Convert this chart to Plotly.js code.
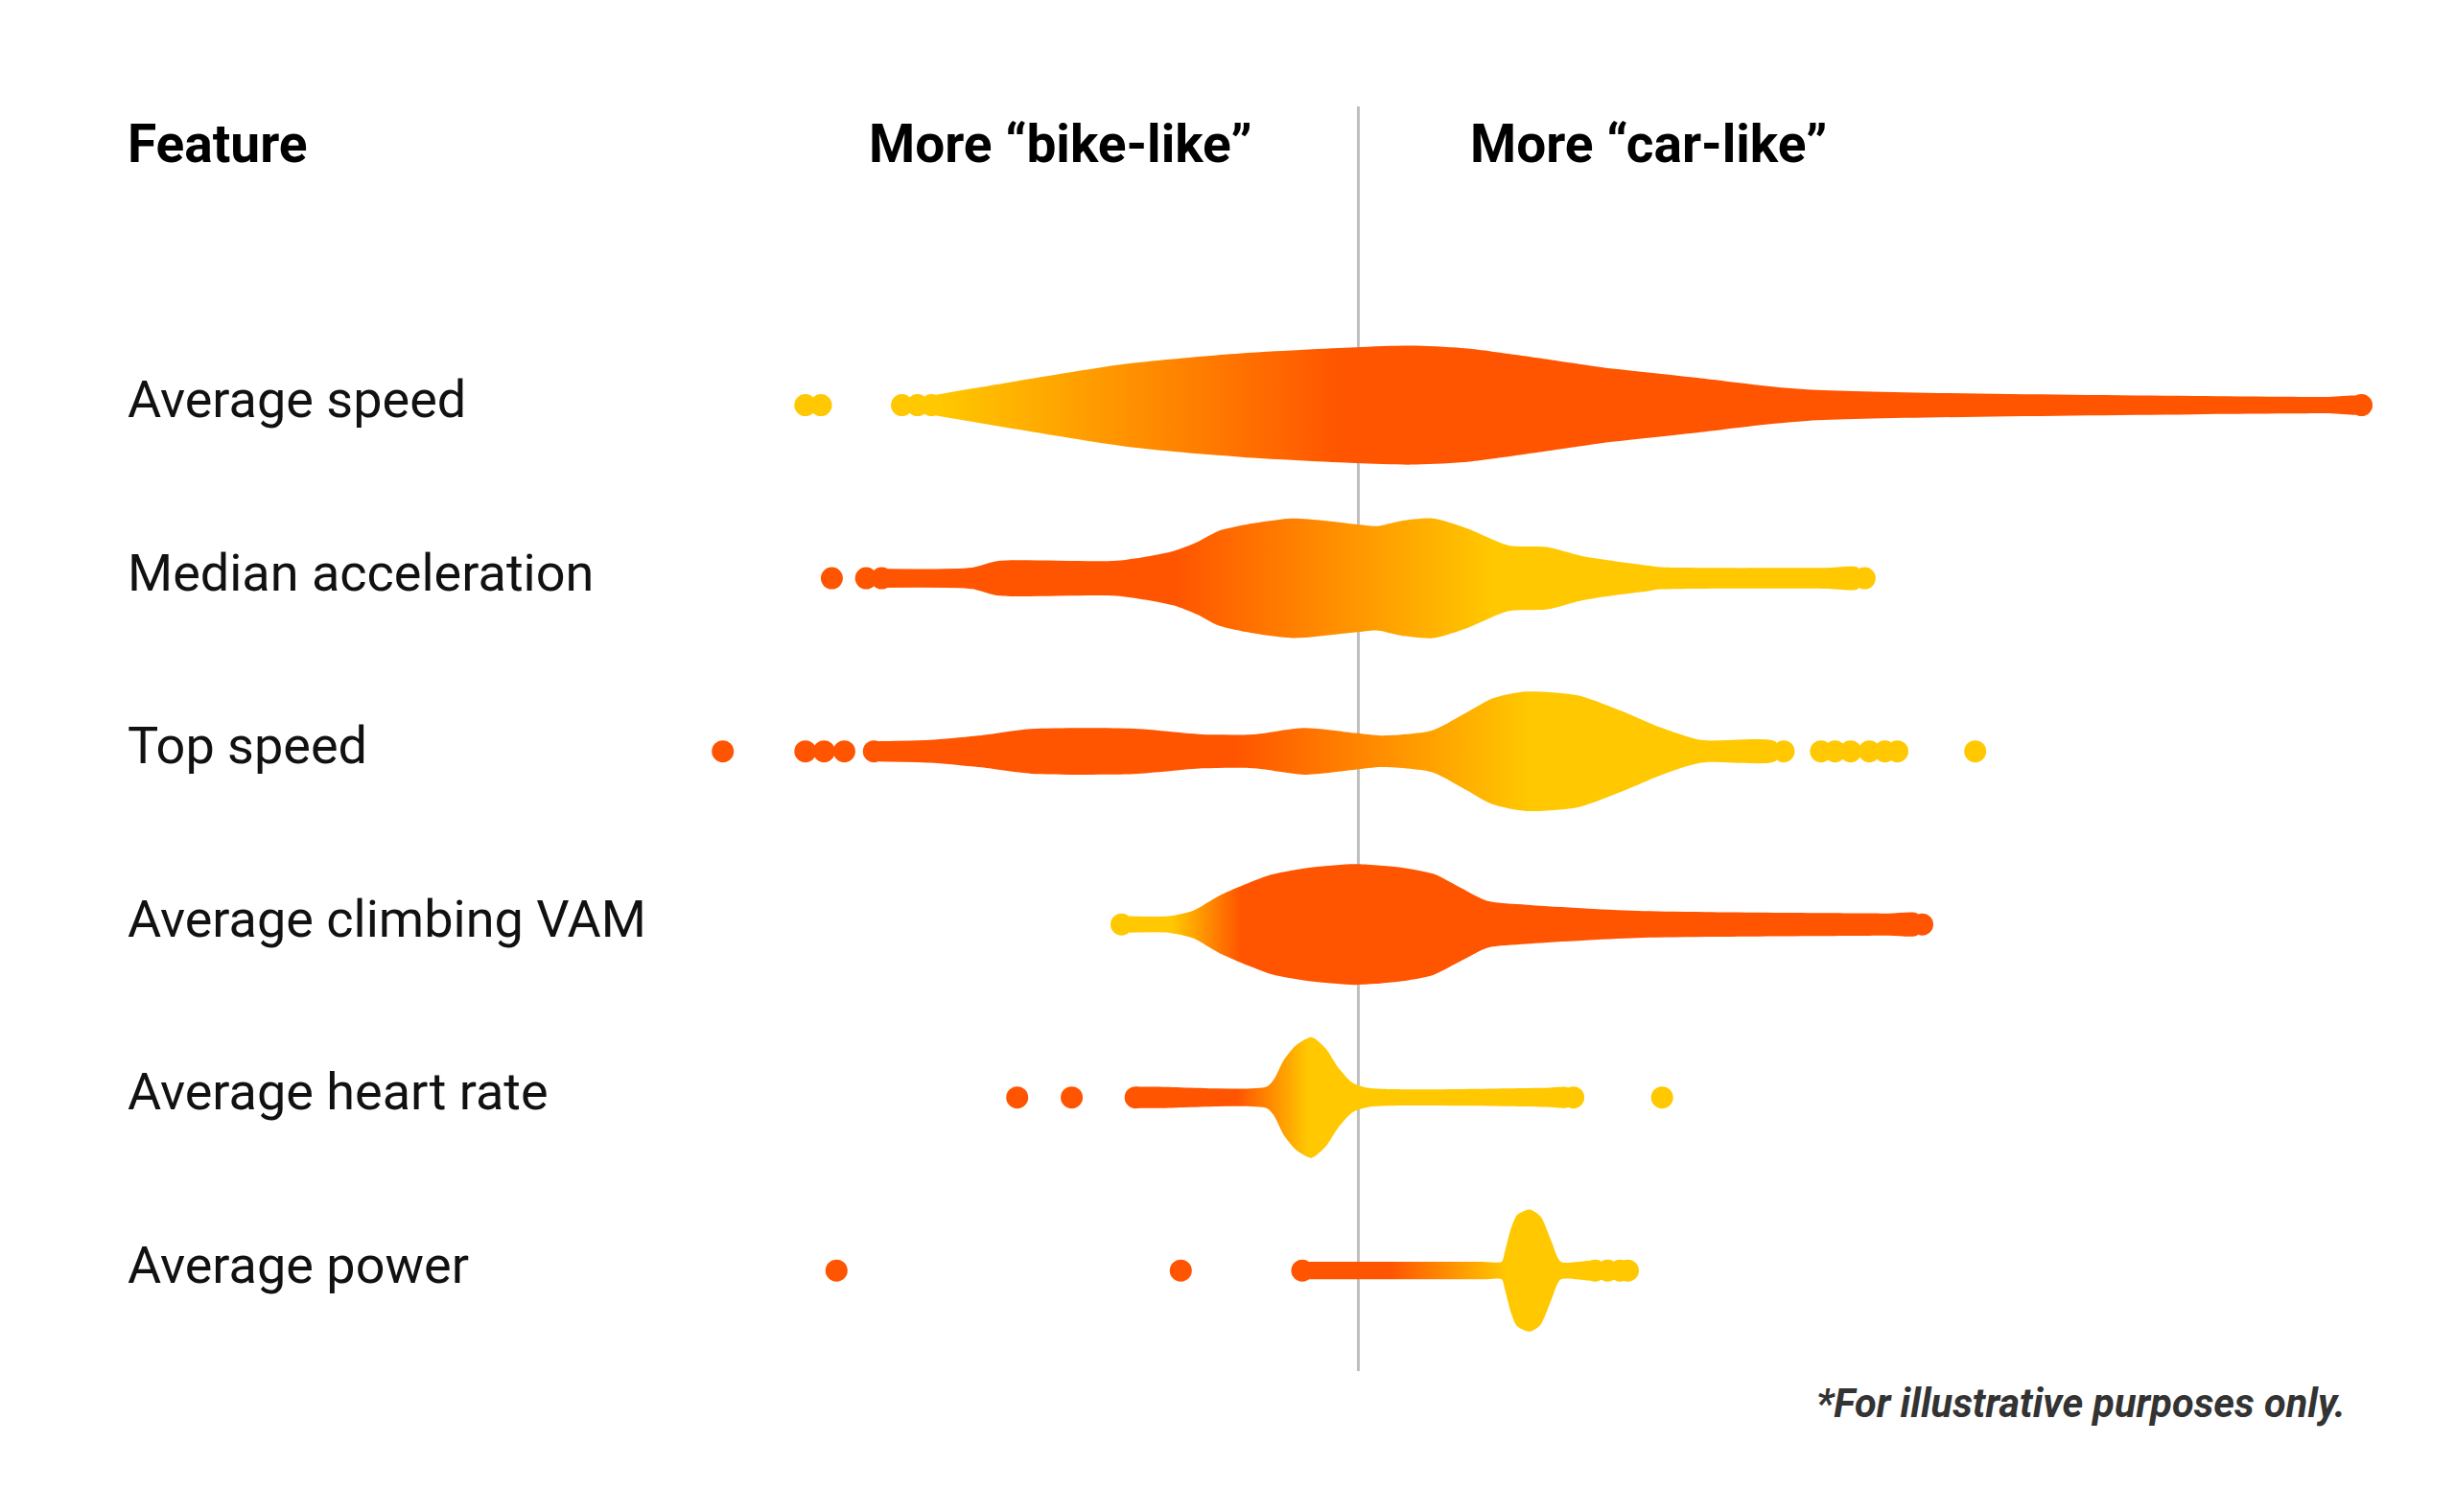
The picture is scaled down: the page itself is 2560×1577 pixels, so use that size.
<!DOCTYPE html>
<html>
<head>
<meta charset="utf-8">
<script src="https://cdn.plot.ly/plotly-3.0.1.min.js"></script>
<style>
  html, body { margin: 0; padding: 0; background: #fff; }
  #chart { width: 2560px; height: 1577px; }
</style>
</head>
<body>
<div id="chart"></div>
<script>
// Features, top to bottom
const features = ['Average speed', 'Median acceleration', 'Top speed',
                  'Average climbing VAM', 'Average heart rate', 'Average power'];

// Violin profiles: x = score (negative = bike-like, positive = car-like), density 0..1
const avgSpeedX   = [-2.71, -2.20, -1.48, -0.75, -0.02, 0.34, 0.70, 1.43, 1.57, 2.16, 2.88, 6.2, 6.44];
const avgSpeedDen = [0.165, 0.38, 0.66, 0.825, 0.92, 0.945, 0.90, 0.65, 0.60, 0.44, 0.25, 0.13, 0.13];
const avgSpeedPts = [-3.55, -3.45, -2.93, -2.83, -2.74, 6.44];

const medAccX   = [-3.04, -2.48, -2.31, -1.55, -1.19, -1.04, -0.90, -0.75, -0.42, -0.02, 0.12,
                   0.27, 0.48, 0.70, 0.96, 1.21, 1.43, 1.65, 1.87, 1.94, 3.0, 3.21];
const medAccDen = [0.15, 0.17, 0.275, 0.28, 0.43, 0.57, 0.75, 0.84, 0.95, 0.86, 0.83,
                   0.91, 0.95, 0.79, 0.525, 0.495, 0.355, 0.27, 0.20, 0.175, 0.165, 0.165];
const medAccPts = [-3.38, -3.16, -3.06, 3.25];

const topSpeedX   = [-3.08, -2.75, -2.42, -2.10, -1.44, -1.00, -0.67, -0.35, -0.02, 0.15,
                     0.47, 0.69, 0.86, 1.08, 1.41, 1.68, 1.95, 2.20, 2.68];
const topSpeedDen = [0.16, 0.18, 0.255, 0.355, 0.36, 0.27, 0.27, 0.37, 0.29, 0.25,
                     0.33, 0.61, 0.84, 0.95, 0.89, 0.65, 0.37, 0.18, 0.15];
const topSpeedPts = [-4.08, -3.55, -3.43, -3.30, -3.11, 2.73, 2.97, 3.06, 3.16, 3.28, 3.38, 3.46, 3.96];

const vamX   = [-1.47, -1.22, -1.06, -0.89, -0.56, -0.29, -0.02, 0.26, 0.48, 0.64, 0.83, 1.08, 1.79, 3.4, 3.59];
const vamDen = [0.13, 0.13, 0.22, 0.46, 0.79, 0.91, 0.96, 0.91, 0.805, 0.605, 0.37, 0.31, 0.215, 0.175, 0.17];
const vamPts = [-1.52, 3.62];

const heartX   = [-1.43, -1.3, -0.59, -0.54, -0.48, -0.40, -0.30, -0.21, -0.13, -0.04, 0.07, 1.2, 1.35];
const heartDen = [0.17, 0.17, 0.17, 0.295, 0.59, 0.83, 0.96, 0.78, 0.48, 0.24, 0.15, 0.15, 0.15];
const heartPts = [-2.19, -1.84, -1.43, 1.38, 1.95];

const powerX   = [-0.32, -0.2, 0.8, 0.92, 0.94, 0.98, 1.02, 1.10, 1.17, 1.24, 1.30, 1.52];
const powerDen = [0.14, 0.14, 0.14, 0.14, 0.295, 0.67, 0.885, 0.97, 0.86, 0.46, 0.14, 0.14];
const powerPts = [-3.35, -1.14, -0.36, 1.52, 1.60, 1.68, 1.73];

// Styling
const ORANGE = [255, 84, 0];
const YELLOW = [255, 200, 0];
const MAX_HALF = 0.3636;   // half height of a density of 1, in row units
const DOT_SIZE = 23;

// gradient: [start x, colour at start, stop x, colour at stop]
const rows = [
    { x: avgSpeedX, den: avgSpeedDen, pts: avgSpeedPts, grad: [-2.7, YELLOW, -0.1, ORANGE] },
    { x: medAccX,   den: medAccDen,   pts: medAccPts,   grad: [-1.19, ORANGE, 0.86, YELLOW] },
    { x: topSpeedX, den: topSpeedDen, pts: topSpeedPts, grad: [-0.8, ORANGE, 1.1, YELLOW] },
    { x: vamX,      den: vamDen,      pts: vamPts,      grad: [-1.2, YELLOW, -0.75, ORANGE] },
    { x: heartX,    den: heartDen,    pts: heartPts,    grad: [-0.78, ORANGE, -0.32, YELLOW] },
    { x: powerX,    den: powerDen,    pts: powerPts,    grad: [0.2, ORANGE, 0.95, YELLOW] }
];

function rgb(c) { return 'rgb(' + c.map(Math.round).join(',') + ')'; }

function colourAt(grad, x) {
    let t = (x - grad[0]) / (grad[2] - grad[0]);
    t = Math.max(0, Math.min(1, t));
    return rgb(grad[1].map((v, i) => v + (grad[3][i] - v) * t));
}

const traces = [];
rows.forEach((r, i) => {
    const top = r.den.map(d => i - d * MAX_HALF);
    const bottom = r.den.map(d => i + d * MAX_HALF).reverse();
    traces.push({
        type: 'scatter',
        mode: 'lines',
        x: r.x.concat(r.x.slice().reverse()),
        y: top.concat(bottom),
        fill: 'toself',
        fillgradient: {
            type: 'horizontal',
            colorscale: [[0, rgb(r.grad[1])], [1, rgb(r.grad[3])]],
            start: r.grad[0],
            stop: r.grad[2]
        },
        line: { width: 0, shape: 'spline', smoothing: 0.7 },
        hoverinfo: 'skip',
        showlegend: false
    });
    traces.push({
        type: 'scatter',
        mode: 'markers',
        x: r.pts,
        y: r.pts.map(() => i),
        marker: { size: DOT_SIZE, color: r.pts.map(x => colourAt(r.grad, x)), line: { width: 0 } },
        hoverinfo: 'skip',
        showlegend: false
    });
});

const W = 2560, H = 1577;
const headFont = { family: 'Roboto, sans-serif', size: 55, color: '#000' };

const annotations = [
    { text: '<b>Feature</b>', x: 131 / W, y: 1 - 150 / H },
    { text: '<b>More “bike-like”</b>', x: 904 / W, y: 1 - 150 / H },
    { text: '<b>More “car-like”</b>', x: 1531 / W, y: 1 - 150 / H }
].map(a => Object.assign(a, {
    xref: 'paper', yref: 'paper', xanchor: 'left', yanchor: 'middle',
    showarrow: false, font: headFont
}));

features.forEach((f, i) => annotations.push({
    text: f, xref: 'paper', yref: 'y', x: 131 / W, y: i, yshift: 6,
    xanchor: 'left', yanchor: 'middle', showarrow: false,
    font: { family: 'Roboto, sans-serif', size: 54, color: '#111' }
}));

annotations.push({
    text: '<b><i>*For illustrative purposes only.</i></b>',
    xref: 'paper', yref: 'paper', x: 2448 / W, y: 1 - 1463 / H,
    xanchor: 'right', yanchor: 'middle', showarrow: false,
    font: { family: 'Roboto, sans-serif', size: 41.5, color: '#333' }
});

const layout = {
    width: W, height: H,
    margin: { l: 0, r: 0, t: 0, b: 0 },
    paper_bgcolor: '#fff', plot_bgcolor: '#fff',
    xaxis: { range: [-8.72, 7.04], visible: false, fixedrange: true },
    yaxis: { range: [6.395, -2.341], visible: false, fixedrange: true },
    shapes: [{
        type: 'line', layer: 'below', xref: 'x', yref: 'paper',
        x0: 0, x1: 0, y0: 1 - 1430 / H, y1: 1 - 111 / H,
        line: { color: '#bfbfbf', width: 3 }
    }],
    annotations: annotations,
    showlegend: false
};

Plotly.newPlot('chart', traces, layout, { staticPlot: true, displayModeBar: false });
</script>
</body>
</html>
